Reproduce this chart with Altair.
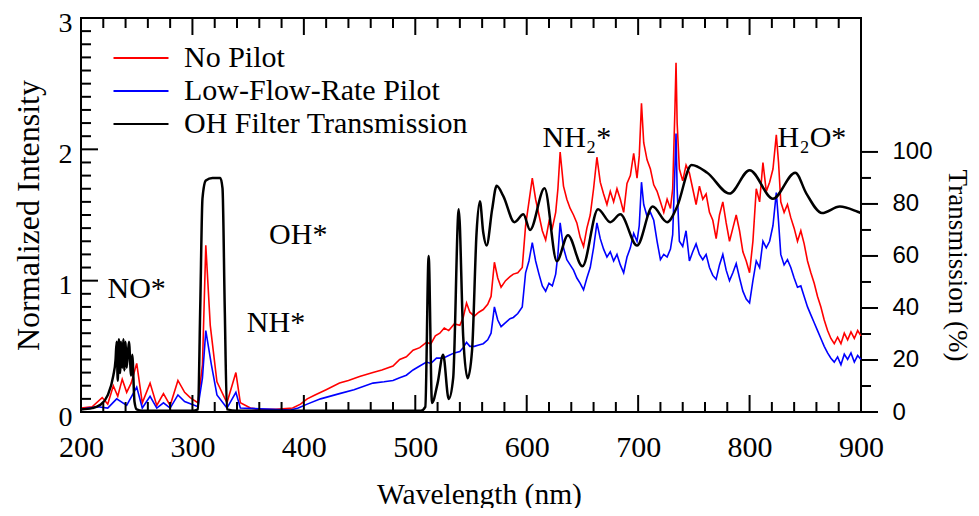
import altair as alt
import pandas as pd

# ---------------- data ----------------
red_wl = [200, 210, 219, 224, 229, 233, 237, 241, 245, 250, 255, 262, 268, 274, 280, 287, 293, 298, 305,
          309, 312, 316, 322, 331, 339, 343, 352, 360, 375, 390, 397, 403, 410, 420, 432, 440, 450, 462,
          470, 480,
          486, 492, 498, 504, 510, 514, 518, 522, 526, 530, 535, 540, 543, 546, 549, 553, 557, 561, 565,
          568, 571, 574, 577, 581, 585, 588, 592, 596, 599, 602, 605, 608, 611, 614, 617, 620, 623, 626,
          628, 630, 633, 636, 639, 642, 645, 648, 651, 654, 657, 660, 663, 666, 669, 672, 675, 678, 681,
          684, 687, 690, 693, 696, 699, 701, 703, 705, 708, 711, 714, 717, 720, 723, 726, 729, 731, 733,
          734, 735, 737, 740, 743, 746, 749, 752, 755, 758, 761, 764, 767, 770, 773, 776, 779, 782, 785,
          788, 791, 794, 797, 800, 803, 806, 809, 812, 815, 818, 821, 824, 826, 828, 831, 834, 837, 840,
          843, 846, 849, 852, 855, 858, 861, 864, 867, 870, 873, 876, 879, 882, 885, 888, 891, 894, 897,
          900]
red_val = [0.03, 0.04, 0.11, 0.06, 0.20, 0.12, 0.25, 0.15, 0.22, 0.37, 0.07, 0.22, 0.05, 0.14, 0.05, 0.24,
           0.15, 0.11, 0.07, 0.36, 1.27, 0.66, 0.23, 0.07, 0.30, 0.07, 0.03, 0.02, 0.02, 0.03, 0.06, 0.10,
           0.13, 0.17, 0.22, 0.24, 0.27, 0.30, 0.32, 0.35,
           0.40, 0.42, 0.47, 0.49, 0.53, 0.52, 0.58, 0.60, 0.64, 0.62, 0.67, 0.66, 0.72, 0.83, 0.76, 0.73,
           0.76, 0.78, 0.82, 0.88, 1.14, 1.02, 0.95, 1.00, 1.03, 1.05, 1.06, 1.10, 1.42, 1.60, 1.78, 1.62,
           1.50, 1.38, 1.31, 1.45, 1.40, 1.52, 1.70, 1.98, 1.72, 1.62, 1.55, 1.50, 1.44, 1.33, 1.26, 1.40,
           1.50, 1.70, 1.94, 1.75, 1.66, 1.58, 1.68, 1.60, 1.70, 1.62, 1.52, 1.74, 1.80, 1.97, 1.78, 1.95,
           2.35, 2.05, 1.92, 1.85, 1.73, 1.68, 1.60, 1.52, 1.62, 1.55, 1.70, 2.30, 2.66, 2.20, 1.85, 1.76,
           1.88, 1.82, 1.70, 1.58, 1.72, 1.62, 1.66, 1.52, 1.46, 1.32, 1.50, 1.60, 1.44, 1.30, 1.40, 1.50,
           1.38, 1.22, 1.15, 1.06, 1.30, 1.70, 1.60, 1.90, 1.68, 1.75, 1.85, 2.11, 1.90, 1.60, 1.52, 1.58,
           1.48, 1.40, 1.30, 1.38, 1.28, 1.15, 1.06, 0.98, 0.88, 0.80, 0.70, 0.62, 0.56, 0.52, 0.57, 0.52,
           0.60, 0.55, 0.61, 0.56, 0.62, 0.58]

blue_wl = [200, 215, 224, 232, 241, 250, 255, 262, 268, 274, 280, 287, 293, 305, 309, 312, 317, 322, 331,
           339, 343, 388, 395, 403, 415, 432, 445, 462, 472, 480,
           486, 492, 498, 504, 510, 514, 519, 525, 530, 535, 540, 543, 546, 549, 553, 557, 561, 565, 568,
           571, 574, 577, 581, 585, 588, 592, 596, 599, 602, 605, 608, 611, 614, 617, 620, 623, 626, 628,
           630, 633, 636, 639, 642, 645, 648, 651, 654, 657, 660, 663, 666, 669, 672, 675, 678, 681, 684,
           687, 690, 693, 696, 699, 701, 703, 705, 708, 711, 714, 717, 720, 723, 726, 729, 731, 733, 734,
           735, 737, 740, 743, 746, 749, 752, 755, 758, 761, 764, 767, 770, 773, 776, 779, 782, 785, 788,
           791, 794, 797, 800, 803, 806, 809, 812, 815, 818, 821, 824, 826, 828, 831, 834, 837, 840, 843,
           846, 849, 852, 855, 858, 861, 864, 867, 870, 873, 876, 879, 882, 885, 888, 891, 894, 897, 900]
blue_val = [0.02, 0.04, 0.03, 0.10, 0.05, 0.19, 0.03, 0.12, 0.03, 0.07, 0.03, 0.13, 0.08, 0.04, 0.26, 0.62,
            0.36, 0.13, 0.03, 0.15, 0.03, 0.015, 0.03, 0.06, 0.10, 0.14, 0.17, 0.22, 0.23, 0.24,
            0.26, 0.28, 0.32, 0.35, 0.38, 0.37, 0.41, 0.41, 0.43, 0.45, 0.46, 0.49, 0.53, 0.50, 0.50, 0.51,
            0.52, 0.55, 0.60, 0.80, 0.70, 0.65, 0.68, 0.71, 0.72, 0.75, 0.80, 1.06, 1.15, 1.29, 1.15, 1.05,
            0.96, 0.92, 0.98, 0.96, 1.05, 1.20, 1.44, 1.25, 1.16, 1.12, 1.08, 1.02, 0.98, 0.93, 1.02, 1.10,
            1.25, 1.44, 1.32, 1.24, 1.18, 1.22, 1.15, 1.20, 1.12, 1.06, 1.18, 1.25, 1.36, 1.30, 1.42, 1.75,
            1.58, 1.49, 1.52, 1.46, 1.30, 1.16, 1.20, 1.18, 1.24, 1.35, 1.85, 2.12, 1.70, 1.30, 1.26, 1.38,
            1.15, 1.22, 1.28, 1.20, 1.16, 1.20, 1.10, 1.04, 1.01, 1.12, 1.20, 1.08, 1.00, 1.06, 1.13, 1.02,
            0.92, 0.86, 0.83, 1.00, 1.15, 1.10, 1.30, 1.25, 1.30, 1.42, 1.67, 1.45, 1.20, 1.12, 1.16, 1.10,
            1.02, 0.95, 0.96, 0.88, 0.80, 0.74, 0.68, 0.62, 0.56, 0.50, 0.45, 0.41, 0.38, 0.42, 0.36, 0.44,
            0.40, 0.45, 0.38, 0.43, 0.40]

oh_wl = [200, 210, 217, 224, 229, 231, 232, 233, 234, 235, 236, 237, 238, 239, 240, 241, 243, 245, 246,
         248, 250, 255, 300, 305, 307, 309, 312, 318, 325, 327, 329, 331, 340, 505, 509, 512, 515, 520,
         525, 530, 534, 539, 543, 547, 551, 555, 558, 561, 564, 569, 573, 579, 589, 597, 603, 616, 627,
         637, 650, 664, 675, 684, 699, 713, 726, 735, 748, 762, 782, 800, 821, 841, 851, 865, 881, 897, 900]
oh_val = [1, 1.5, 2.7, 6.5, 14, 20, 27, 12, 28, 15, 27, 17, 28, 16, 27, 17, 27, 14, 22, 4, 1, 0.5, 0.5, 1,
          40, 82, 89, 90, 90, 86, 40, 1, 0.5, 0.5, 2, 60, 3.5, 11, 22, 5, 13, 78, 29, 13, 24, 69, 81, 69,
          64, 78, 87, 83, 73, 76, 70, 86, 58, 68, 56, 78, 73, 76, 64, 79, 73, 79, 95, 92, 84, 93, 82, 92,
          84, 76.5, 79, 77, 76.5]

series_names = ["No Pilot", "Low-Flow-Rate Pilot", "OH Filter Transmission"]
series_colors = ["#ff0000", "#0000ff", "#000000"]

note_text = ["NO*", "OH*", "NH*", "NH₂*", "H₂O*"]
note_wl = [250, 395, 375, 645, 856]
note_val = [0.94, 1.35, 0.68, 2.09, 2.09]

x_major = [200, 300, 400, 500, 600, 700, 800, 900]
x_minor = [v for v in range(200, 901, 20) if v % 100 != 0]
y_major = [0, 1, 2, 3]
y_minor = [i / 10 for i in range(31) if i % 10 != 0]
t_major = [0, 20, 40, 60, 80, 100]
t_minor = [10, 30, 50, 70, 90]

# ---------------- geometry / scales ----------------
W, H = 780, 394
X0, X1, Y1, T1 = 200, 900, 3, 151.5
SERIF = "Liberation Serif"
SANS = "Liberation Sans"
MAJ, MIN, TW = 17, 10, 2
PX_X = (X1 - X0) / W      # data units per pixel along x
PX_Y = Y1 / H             # data units per pixel along y

xs = alt.Scale(domain=[X0, X1], nice=False, zero=False)
ys = alt.Scale(domain=[0, Y1], nice=False, zero=False)
ts = alt.Scale(domain=[0, T1], nice=False, zero=False)

df_red = pd.DataFrame({"wl": red_wl, "v": red_val, "s": series_names[0]})
df_blue = pd.DataFrame({"wl": blue_wl, "v": blue_val, "s": series_names[1]})
df_oh = pd.DataFrame({"wl": oh_wl, "v": oh_val, "s": series_names[2]})
df_note = pd.DataFrame({"wl": note_wl, "v": note_val, "t": note_text})


def tick_rows(kind, values, base, length_px, direction, tag):
    rows = []
    for i, v in enumerate(values):
        key = f"{tag}{i}"
        if kind == "x":
            end = base + direction * length_px * PX_Y
            rows += [{"x": v, "y": base, "k": key}, {"x": v, "y": end, "k": key}]
        else:
            end = base + direction * length_px * PX_X
            rows += [{"x": base, "y": v, "k": key}, {"x": end, "y": v, "k": key}]
    return rows


df_ticks_i = pd.DataFrame(
    tick_rows("x", x_major, 0, MAJ, 1, "bM") + tick_rows("x", x_minor, 0, MIN, 1, "bm")
    + tick_rows("x", x_major, Y1, MAJ, -1, "tM") + tick_rows("x", x_minor, Y1, MIN, -1, "tm")
    + tick_rows("y", y_major, X0, MAJ, 1, "lM") + tick_rows("y", y_minor, X0, MIN, 1, "lm")
)
df_ticks_t = pd.DataFrame(
    tick_rows("y", t_major, X1, MAJ, 1, "rM") + tick_rows("y", t_minor, X1, MIN, 1, "rm")
)

SYM = 756  # sqrt = 27.5 ; path spans twice that
color = alt.Color(
    "s:N",
    scale=alt.Scale(domain=series_names, range=series_colors),
    legend=alt.Legend(
        orient="none", legendX=45, legendY=25, title=None, direction="vertical",
        symbolType="M-2,0H2", symbolSize=SYM, symbolStrokeWidth=2,
        labelFont=SERIF, labelFontSize=30, labelColor="black", labelOffset=28,
        labelLimit=0, rowPadding=3, padding=0,
    ),
)

axis_x = alt.Axis(
    orient="bottom", values=x_major, ticks=False, domain=False, grid=False,
    labelFont=SERIF, labelFontSize=30, labelColor="black", labelPadding=20, labelFlush=False,
    title="Wavelength (nm)", titleFont=SERIF, titleFontSize=29.5, titleFontWeight="normal",
    titleColor="black", titleX=W / 2 + 8, titleY=91, titleBaseline="alphabetic",
)
axis_y = alt.Axis(
    orient="left", values=y_major, ticks=False, domain=False, grid=False,
    labelFont=SERIF, labelFontSize=28, labelColor="black", labelPadding=9, labelOffset=5,
    title="Normalized Intensity", titleFont=SERIF, titleFontSize=32, titleFontWeight="normal",
    titleColor="black", titleX=-53, titleY=H / 2, titleBaseline="middle",
)
axis_t = alt.Axis(
    orient="right", values=t_major, ticks=False, domain=False, grid=False,
    labelFont=SANS, labelFontSize=24, labelColor="black", labelPadding=MAJ + 14,
    title="Transmission (%)", titleFont=SERIF, titleFontSize=27, titleFontWeight="normal",
    titleColor="black", titleAngle=90, titleX=95, titleY=247, titleBaseline="middle",
)

red = alt.Chart(df_red).mark_line(strokeWidth=1.6).encode(
    x=alt.X("wl:Q", scale=xs, axis=axis_x),
    y=alt.Y("v:Q", scale=ys, axis=axis_y),
    color=color,
)
blue = alt.Chart(df_blue).mark_line(strokeWidth=1.6).encode(
    x=alt.X("wl:Q", scale=xs, axis=None),
    y=alt.Y("v:Q", scale=ys, axis=None),
    color=color,
)
notes = alt.Chart(df_note).mark_text(font=SERIF, fontSize=30, color="black",
                                     align="center", baseline="middle").encode(
    x=alt.X("wl:Q", scale=xs, axis=None),
    y=alt.Y("v:Q", scale=ys, axis=None),
    text="t:N",
)
ticks_i = alt.Chart(df_ticks_i).mark_line(strokeWidth=TW, color="black").encode(
    x=alt.X("x:Q", scale=xs, axis=None),
    y=alt.Y("y:Q", scale=ys, axis=None),
    detail="k:N",
)
intensity = alt.layer(red, blue, notes, ticks_i).resolve_axis(x="independent", y="independent")

oh = alt.Chart(df_oh).mark_line(strokeWidth=2.5, interpolate="monotone").encode(
    x=alt.X("wl:Q", scale=xs, axis=None),
    y=alt.Y("v:Q", scale=ts, axis=axis_t),
    color=color,
)
ticks_t = alt.Chart(df_ticks_t).mark_line(strokeWidth=TW, color="black").encode(
    x=alt.X("x:Q", scale=xs, axis=None),
    y=alt.Y("y:Q", scale=ts, axis=None),
    detail="k:N",
)
transmission = alt.layer(oh, ticks_t).resolve_axis(x="independent", y="independent")

chart = (
    alt.layer(intensity, transmission)
    .resolve_scale(y="independent")
    .resolve_axis(x="independent", y="independent")
    .properties(
        width=W, height=H,
        autosize=alt.AutoSizeParams(type="none"),
        padding={"left": 73, "top": 10, "right": 110, "bottom": 96},
    )
    .configure_view(stroke="black", strokeWidth=2)
)

chart.save("out.html", embed_options={"renderer": "svg", "actions": False})
